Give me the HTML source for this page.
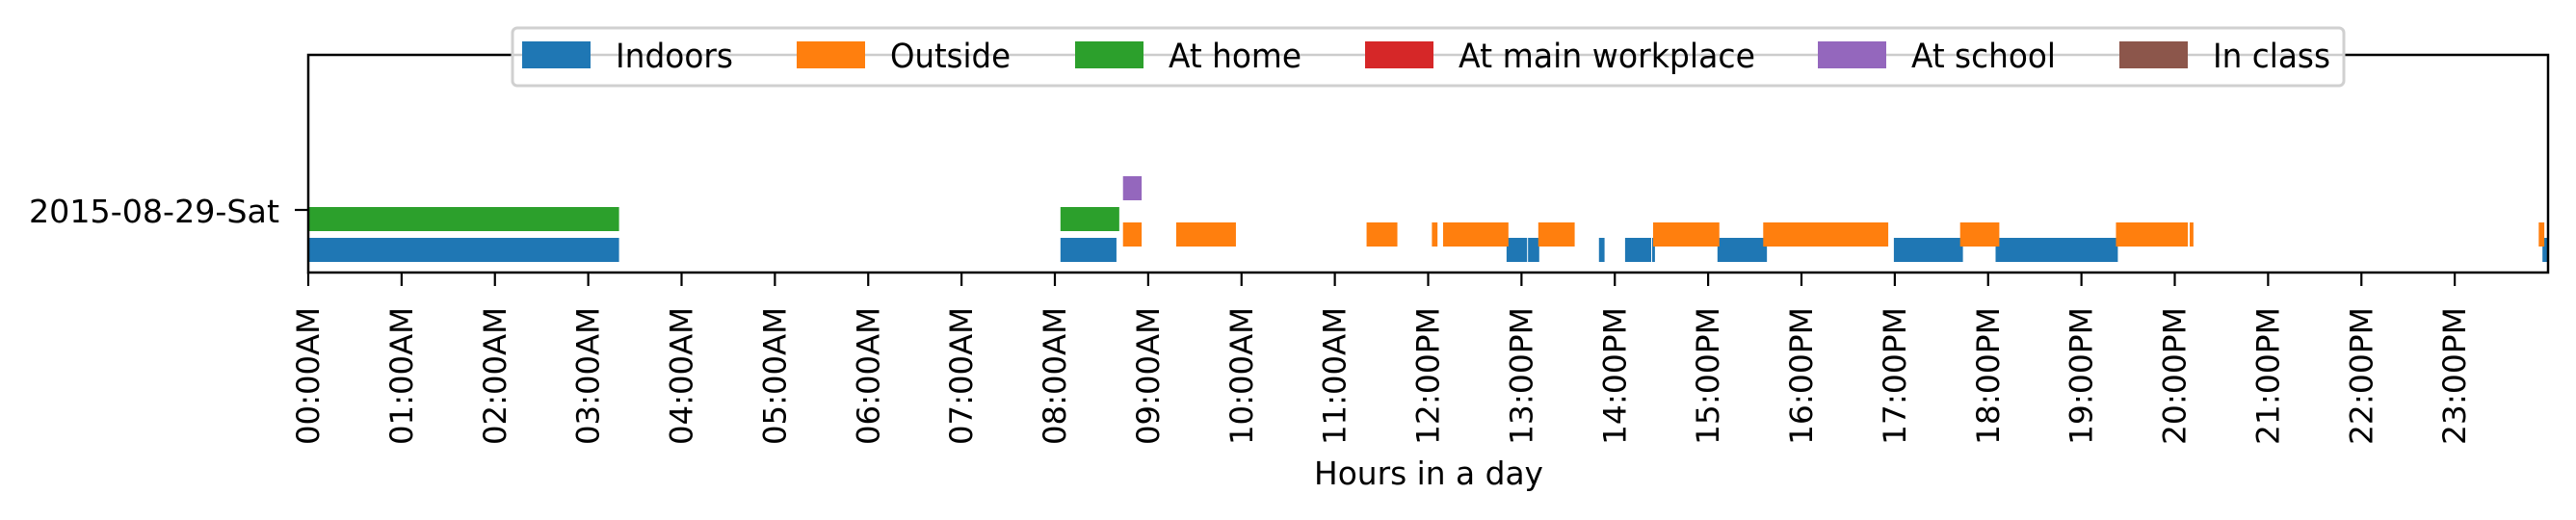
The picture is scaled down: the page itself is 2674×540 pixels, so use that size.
<!DOCTYPE html>
<html><head><meta charset="utf-8"><style>
html,body{margin:0;padding:0;background:#fff;}
svg{display:block;font-family:"DejaVu Sans","Liberation Sans",sans-serif;}
</style></head><body>
<svg id="chart" width="2674" height="540" viewBox="0 0 2674 540" xmlns="http://www.w3.org/2000/svg">
<g id="marks"></g>
<g id="axes"></g>
<g id="legend"></g>
</svg>
<script>
const categories = ["Indoors","Outside","At home","At main workplace","At school","In class"];
const colors = ["#1f77b4","#ff7f0e","#2ca02c","#d62728","#9467bd","#8c564b"];
const indoorsIntervals = [[0,3.33],[8.06,8.66],[12.84,13.06],[13.07,13.19],[13.83,13.89],[14.11,14.39],[14.40,14.43],[15.10,15.63],[16.99,17.73],[18.08,19.39],[23.94,24.0]];
const outsideIntervals = [[8.73,8.93],[9.30,9.94],[11.34,11.67],[12.04,12.10],[12.16,12.86],[13.18,13.57],[14.41,15.12],[15.59,16.93],[17.70,18.12],[19.37,20.14],[20.16,20.20],[23.90,23.96]];
const homeIntervals = [[0,3.33],[8.06,8.69]];
const workplaceIntervals = [];
const schoolIntervals = [[8.73,8.93]];
const classIntervals = [];
const tickHours = [0,1,2,3,4,5,6,7,8,9,10,11,12,13,14,15,16,17,18,19,20,21,22,23];
const tickLabels = ["00:00AM","01:00AM","02:00AM","03:00AM","04:00AM","05:00AM","06:00AM","07:00AM","08:00AM","09:00AM","10:00AM","11:00AM","12:00PM","13:00PM","14:00PM","15:00PM","16:00PM","17:00PM","18:00PM","19:00PM","20:00PM","21:00PM","22:00PM","23:00PM"];
const dayLabel = "2015-08-29-Sat";

const NS="http://www.w3.org/2000/svg";
const X0=320, X1=2645, Y0=57, Y1=283;
function xs(h){return X0+(h/24)*(X1-X0);}
function ys(i){return 259.5-16*i;} // center of category lane
function mk(tag,attrs,parent){const e=document.createElementNS(NS,tag);for(const k in attrs)e.setAttribute(k,attrs[k]);parent.appendChild(e);return e;}

const marks=document.getElementById('marks');
const allSeries=[indoorsIntervals,outsideIntervals,homeIntervals,workplaceIntervals,schoolIntervals,classIntervals];
const names=["indoors","outside","at-home","at-main-workplace","at-school","in-class"];
allSeries.forEach((ser,i)=>{
  ser.forEach(iv=>{
    const r=mk('rect',{x:xs(iv[0]),y:ys(i)-12.5,width:Math.max(1,xs(iv[1])-xs(iv[0])),height:25,fill:colors[i]},marks);
    
    
  });
});

const axes=document.getElementById('axes');
const frame=mk('rect',{x:X0,y:Y0,width:X1-X0,height:Y1-Y0,fill:'none',stroke:'#000','stroke-width':2.5},axes);


tickHours.forEach((h,i)=>{
  const x=xs(h);
  const t=mk('line',{x1:x,y1:Y1,x2:x,y2:Y1+14,stroke:'#000','stroke-width':2.2},axes);
  
  
  const tx=mk('text',{x:0,y:0,transform:`translate(${x+11},462) rotate(-90)`,'font-size':32,textLength:143,lengthAdjust:'spacingAndGlyphs',fill:'#000'},axes);
  tx.textContent=tickLabels[i];
  
  
});
const yt=mk('line',{x1:X0-14,y1:218,x2:X0,y2:218,stroke:'#000','stroke-width':2.2},axes);


const yl=mk('text',{x:30,y:231,'font-size':33,textLength:260,lengthAdjust:'spacingAndGlyphs',fill:'#000'},axes);
yl.textContent=dayLabel;


const xt=mk('text',{x:1364,y:503,'font-size':33,textLength:238,lengthAdjust:'spacingAndGlyphs',fill:'#000'},axes);
xt.textContent="Hours in a day";



const lg=document.getElementById('legend');
const box=mk('rect',{x:532,y:29,width:1901,height:60,rx:5,fill:'#fff','fill-opacity':0.8,stroke:'#d0d0d0','stroke-width':3},lg);


const patchX=[542,827,1116,1417,1887,2200];
const textW=[122,125,138,308,150,122];
categories.forEach((c,i)=>{
  const g=mk('g',{},lg);
  
  
  mk('rect',{x:patchX[i],y:43,width:71,height:28,fill:colors[i]},g);
  const t=mk('text',{x:patchX[i]+97,y:70,'font-size':35,textLength:textW[i],lengthAdjust:'spacingAndGlyphs',fill:'#000'},g);
  t.textContent=c;
});
</script>
</body></html>
